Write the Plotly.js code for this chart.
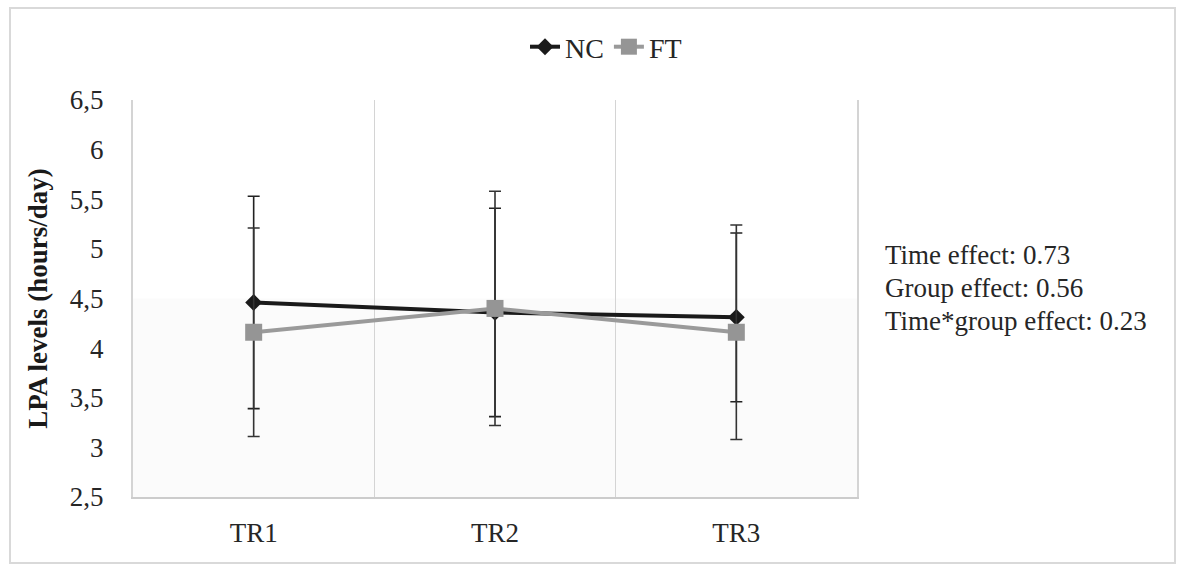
<!DOCTYPE html>
<html>
<head>
<meta charset="utf-8">
<script src="https://cdn.plot.ly/plotly-3.0.1.min.js"></script>
<style>html,body{margin:0;padding:0;background:#fff;}#chart{width:1179px;height:565px;}</style>
</head>
<body>
<div id="chart"></div>
<script>
// ---- data ----
const categories = ['TR1', 'TR2', 'TR3'];
const ncMean = [4.46, 4.36, 4.31];
const ncSD   = [1.07, 1.05, 0.85];
const ftMean = [4.16, 4.40, 4.16];
const ftSD   = [1.05, 1.18, 1.08];
const yTickVals = [2.5, 3, 3.5, 4, 4.5, 5, 5.5, 6, 6.5];
const yTickText = ['2,5', '3', '3,5', '4', '4,5', '5', '5,5', '6', '6,5'];
const effectLabels = ['Time effect: 0.73', 'Group effect: 0.56', 'Time*group effect: 0.23'];

const FONT = '"Liberation Serif", "Times New Roman", serif';
const W = 1179, H = 565;
const L = 133, R = 322, T = 100, B = 68;
const pw = W - L - R, ph = H - T - B;
const px = x => (x - L) / pw;          // pixel -> paper x
const py = y => (H - B - y) / ph;      // pixel -> paper y

const traces = [
  {
    name: 'NC', type: 'scatter', mode: 'lines+markers',
    x: categories, y: ncMean,
    line: {color: '#1a1a1a', width: 4},
    marker: {symbol: 'diamond', size: 13, color: '#1a1a1a'},
    error_y: {type: 'data', array: ncSD, visible: true, color: '#222', thickness: 1.6, width: 6}
  },
  {
    name: 'FT', type: 'scatter', mode: 'lines+markers',
    x: categories, y: ftMean,
    line: {color: '#9a9a9a', width: 4},
    marker: {symbol: 'square', size: 17, color: '#959595'},
    error_y: {type: 'data', array: ftSD, visible: true, color: '#333', thickness: 1.6, width: 6}
  }
];

const annotations = effectLabels.map((t, i) => ({
  text: t, xref: 'paper', yref: 'paper',
  x: px(883), y: py([255, 288, 321][i]),
  xanchor: 'left', yanchor: 'middle', showarrow: false,
  font: {family: FONT, size: 27, color: '#262626'}
}));

const layout = {
  width: W, height: H,
  margin: {l: L, r: R, t: T, b: B, pad: 0},
  paper_bgcolor: '#fff', plot_bgcolor: 'rgba(0,0,0,0)',
  font: {family: FONT, size: 27, color: '#262626'},
  showlegend: true,
  legend: {
    orientation: 'h', x: px(606), y: py(47), xanchor: 'center', yanchor: 'middle',
    font: {family: FONT, size: 28, color: '#262626'}, bgcolor: 'rgba(0,0,0,0)', traceorder: 'normal'
  },
  xaxis: {
    type: 'category', tickson: 'boundaries', range: [-0.5, 2.5],
    showgrid: true, gridcolor: '#d4d4d4', gridwidth: 1.5,
    showline: true, linecolor: '#cccccc', linewidth: 2,
    ticks: '', ticklabelstandoff: 11,
    tickfont: {family: FONT, size: 27, color: '#262626'},
    zeroline: false, fixedrange: true
  },
  yaxis: {
    range: [2.5, 6.5], tickvals: yTickVals, ticktext: yTickText,
    showgrid: false, zeroline: false,
    showline: true, mirror: true, linecolor: '#d4d4d4', linewidth: 2,
    ticks: 'outside', ticklen: 22, tickcolor: 'rgba(0,0,0,0)',
    tickfont: {family: FONT, size: 27, color: '#262626'},
    title: {text: '<b>LPA levels (hours/day)</b>', font: {family: FONT, size: 27, color: '#1a1a1a'}, standoff: 14},
    fixedrange: true
  },
  shapes: [
    {type: 'rect', layer: 'below', xref: 'paper', yref: 'y', x0: 0, x1: 1, y0: 2.5, y1: 4.5,
     fillcolor: '#fbfbfb', line: {width: 0}},
    {type: 'rect', layer: 'below', xref: 'paper', yref: 'paper',
     x0: px(10), x1: px(1175), y0: py(563), y1: py(8),
     fillcolor: 'rgba(0,0,0,0)', line: {color: '#d9d9d9', width: 2}}
  ],
  annotations: annotations
};

Plotly.newPlot('chart', traces, layout, {displayModeBar: false, staticPlot: true});
</script>
</body>
</html>
